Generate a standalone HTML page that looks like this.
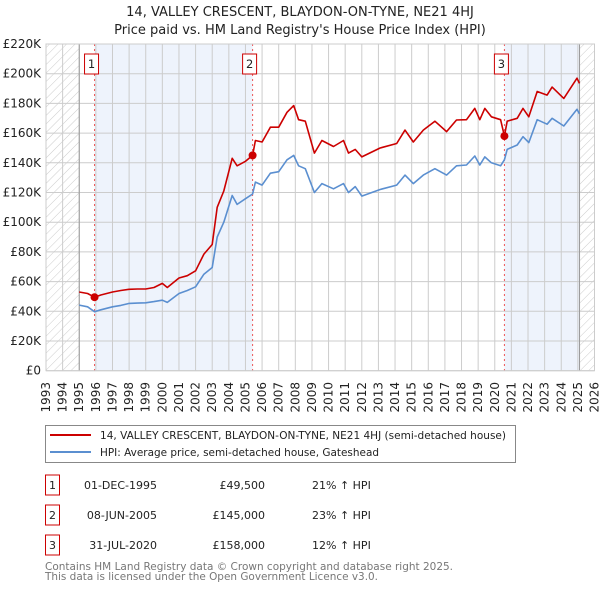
<!DOCTYPE html>
<html><head><meta charset="utf-8"><style>
body{margin:0;background:#fff;font-family:"Liberation Sans","DejaVu Sans",sans-serif;}
svg text{font-family:"DejaVu Sans","Liberation Sans",sans-serif;}
</style></head><body>
<svg id="chart" width="600" height="590" xmlns="http://www.w3.org/2000/svg">
<defs><pattern id="hatch" patternUnits="userSpaceOnUse" width="6" height="6" patternTransform="rotate(45)"><line x1="0" y1="0" x2="0" y2="6" stroke="#ccc" stroke-width="1"/></pattern></defs>
<text x="300" y="16" text-anchor="middle" font-size="13" fill="#222">14, VALLEY CRESCENT, BLAYDON-ON-TYNE, NE21 4HJ</text>
<text x="300" y="34" text-anchor="middle" font-size="13" fill="#222">Price paid vs. HM Land Registry's House Price Index (HPI)</text>
<g id="plot"></g>
<g>
<rect x="45.5" y="425.5" width="470" height="37" fill="#fff" stroke="#888"/>
<line x1="50" y1="435" x2="91" y2="435" stroke="#cc0000" stroke-width="2"/>
<text x="100" y="439" font-size="11" fill="#222" textLength="406" lengthAdjust="spacingAndGlyphs">14, VALLEY CRESCENT, BLAYDON-ON-TYNE, NE21 4HJ (semi-detached house)</text>
<line x1="50" y1="452" x2="91" y2="452" stroke="#5b8fd0" stroke-width="2"/>
<text x="100" y="456" font-size="11" fill="#222" textLength="279" lengthAdjust="spacingAndGlyphs">HPI: Average price, semi-detached house, Gateshead</text>
</g>
<g id="table"></g>
<text x="45" y="570" font-size="11" fill="#777" textLength="408" lengthAdjust="spacingAndGlyphs">Contains HM Land Registry data © Crown copyright and database right 2025.</text>
<text x="45" y="580" font-size="11" fill="#777" textLength="333" lengthAdjust="spacingAndGlyphs">This data is licensed under the Open Government Licence v3.0.</text>
</svg>
<script>
const redYears=[1995.0,1995.5,1995.92,1996.3,1997,1997.5,1998,1998.5,1999,1999.5,2000,2000.3,2001,2001.5,2002,2002.5,2003,2003.3,2003.7,2004.2,2004.5,2005,2005.43,2005.6,2006,2006.5,2007,2007.5,2007.9,2008.2,2008.6,2009.15,2009.6,2010.3,2010.9,2011.2,2011.6,2012.0,2013.1,2014.1,2014.6,2015.1,2015.7,2016.4,2017.1,2017.7,2018.3,2018.8,2019.1,2019.4,2019.8,2020.35,2020.58,2020.75,2021.35,2021.7,2022.05,2022.55,2023.15,2023.45,2024.15,2024.95,2025.1];
const redValues=[53,52,49.5,51,53,54,54.8,55,55,56,58.8,56,62.4,64,67.3,78.5,85,110,121,143,138,141,145,155,154,164,164,174,178.5,169,168,146.5,155,151,155,146.5,149,144,150,153,162,154,162,168,161,168.8,169,176.6,169,176.6,171,169,158,168,170,176.6,171,188,185.6,191,183.4,197,193.5];
const hpiValues=[44.2,43,39.7,41,43,44,45.3,45.5,45.7,46.5,47.5,46,52,54,56.5,65,69.5,90,100,118,112,115.8,119,127,125,133,134,142,145,138,136,120,126,122.5,126,120,124,117.6,122,125,131.7,126,131.7,136,131.7,138,138.5,144.6,138.5,144,140,138,142,149,152,157.6,153.6,169,166,170,164.8,176,173];
const yTicks=[0,20,40,60,80,100,120,140,160,180,200,220];
const xYears=[];for(let y=1993;y<=2026;y++)xYears.push(y);
const saleLabels=["1","2","3"];
const saleYears=[1995.92,2005.43,2020.58];
const saleValues=[49.5,145,158];
const saleDates=["01-DEC-1995","08-JUN-2005","31-JUL-2020"];
const salePrices=["£49,500","£145,000","£158,000"];
const saleHpi=["21% ↑ HPI","23% ↑ HPI","12% ↑ HPI"];

const L=46,R=594.5,T=44,B=370.7;
const x=yr=>L+(yr-1993)/(2026-1993)*(R-L);
const y=v=>B-v/220*(B-T);
const NS="http://www.w3.org/2000/svg";
const plot=document.getElementById('plot');
function mk(tag,attrs,parent){const e=document.createElementNS(NS,tag);for(const k in attrs)e.setAttribute(k,attrs[k]);(parent||plot).appendChild(e);return e;}
mk('rect',{x:L,y:T,width:R-L,height:B-T,fill:'#fff'});
let e;
e=mk('rect',{x:x(saleYears[0]),y:T,width:x(saleYears[1])-x(saleYears[0]),height:B-T,fill:'#eef3fc'});


e=mk('rect',{x:x(saleYears[2]),y:T,width:x(2025.1)-x(saleYears[2]),height:B-T,fill:'#eef3fc'});


e=mk('rect',{x:L,y:T,width:x(1995)-L,height:B-T,fill:'url(#hatch)'});


e=mk('rect',{x:x(2025.1),y:T,width:R-x(2025.1),height:B-T,fill:'url(#hatch)'});


yTicks.forEach(v=>{
 e=mk('line',{x1:L,x2:R,y1:y(v),y2:y(v),stroke:'#cccccc','stroke-width':1});
 
 
 e=mk('text',{x:L-5,y:y(v)+4,'text-anchor':'end','font-size':12,fill:'#222'});
 e.textContent='£'+(v===0?'0':v+'K');
 
 
});
xYears.forEach(yr=>{
 e=mk('line',{x1:x(yr),x2:x(yr),y1:T,y2:B,stroke:'#cccccc','stroke-width':1});
 
 
 e=mk('text',{x:0,y:0,'text-anchor':'end','font-size':12,fill:'#222',transform:`translate(${x(yr)+4},382) rotate(-90)`});
 e.textContent=yr;
 
 
});
mk('line',{x1:x(1995),x2:x(1995),y1:T,y2:B,stroke:'#999'});
mk('line',{x1:x(2025.1),x2:x(2025.1),y1:T,y2:B,stroke:'#999'});
saleYears.forEach((yr,i)=>{
 e=mk('line',{x1:x(yr),x2:x(yr),y1:T,y2:B,stroke:'#ee5555','stroke-dasharray':'2,3'});
 
 
});
function path(vals,color,name){
 const d=redYears.map((yr,i)=>(i?'L':'M')+x(yr).toFixed(1)+','+y(vals[i]).toFixed(1)).join('');
 e=mk('path',{d,fill:'none',stroke:color,'stroke-width':1.6,'stroke-linejoin':'round'});
 
 
}
path(hpiValues,'#5b8fd0','hpi-line');
path(redValues,'#cc0000','price-paid-line');
saleYears.forEach((yr,i)=>{
 e=mk('circle',{cx:x(yr),cy:y(saleValues[i]),r:4,fill:'#cc0000'});
 
 
 const bx=x(yr)-10;
 e=mk('rect',{x:bx,y:54,width:14,height:20,fill:'#fff',stroke:'#cc0000'});
 
 
 e=mk('text',{x:bx+7,y:68,'text-anchor':'middle','font-size':11.5,fill:'#222'});
 e.textContent=saleLabels[i];
 
 
});
mk('rect',{x:L,y:T,width:R-L,height:B-T,fill:'none',stroke:'#cccccc'});
const tbl=document.getElementById('table');
saleLabels.forEach((lab,i)=>{
 const cy=485+i*30;
 e=mk('rect',{x:45.5,y:cy-10,width:14,height:20,fill:'#fff',stroke:'#cc0000'},tbl);
 
 
 e=mk('text',{x:52.5,y:cy+4,'text-anchor':'middle','font-size':11,fill:'#222'},tbl);e.textContent=lab;
 
 
 e=mk('text',{x:157,y:cy+4,'text-anchor':'end','font-size':11,fill:'#222'},tbl);e.textContent=saleDates[i];
 
 
 e=mk('text',{x:265,y:cy+4,'text-anchor':'end','font-size':11,fill:'#222'},tbl);e.textContent=salePrices[i];
 
 
 e=mk('text',{x:312,y:cy+4,'font-size':11,fill:'#222'},tbl);e.textContent=saleHpi[i];
 
 
});
</script>
</body></html>
